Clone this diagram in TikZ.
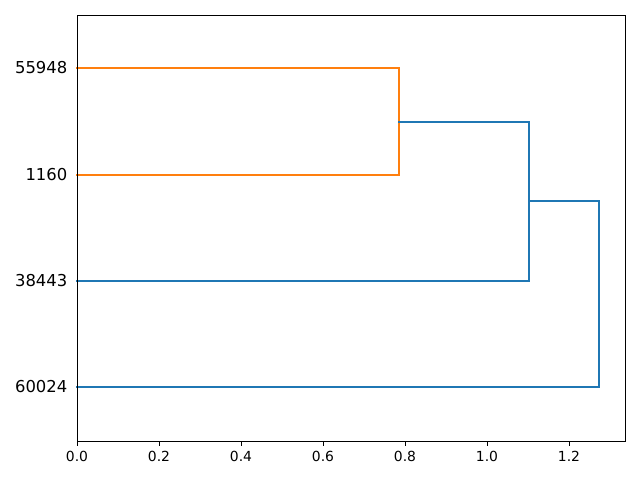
\documentclass[tikz,border=0pt]{standalone}
\usepackage{fontspec}
\setmainfont{DejaVu Sans}
\usetikzlibrary{positioning}
\definecolor{mplblue}{HTML}{1F77B4}
\definecolor{mplorange}{HTML}{FF7F0E}

\begin{document}
\begin{tikzpicture}[
    x=1pt, y=-1pt,
    % Styles for the plot elements
    link/.style={line width=1.5pt, line cap=rect},
    leaflabel/.style={anchor=east, inner sep=0pt, font=\fontsize{16.4}{18}\selectfont},
    ticklabel/.style={anchor=north, inner sep=0pt, font=\fontsize{13.9}{15}\selectfont}
]
  \useasboundingbox (0,0) rectangle (640,480);

  % --- LEAVES ---
  \coordinate (l55948) at (77,68);
  \coordinate (l1160) at (77,175);
  \coordinate (l38443) at (77,281);
  \coordinate (l60024) at (77,387);

  \node[leaflabel] (t55948) at (67.5,68) {55948};
  \node[leaflabel] (t1160) at (67.5,175) {1160};
  \node[leaflabel] (t38443) at (67.5,281) {38443};
  \node[leaflabel] (t60024) at (67.5,387) {60024};

  % --- MERGES ---
  \coordinate (ma) at (399,68);
  \coordinate (mb) at (399,175);
  \coordinate (mab) at (399,122);
  \coordinate (mc) at (529,122);
  \coordinate (md) at (529,281);
  \coordinate (mcd) at (529,201);
  \coordinate (me) at (599,201);
  \coordinate (mf) at (599,387);

  \draw[link, mplorange] (l55948) -- (ma) -- (mb) -- (l1160);
  \draw[link, mplblue] (mab) -- (mc) -- (md) -- (l38443);
  \draw[link, mplblue] (mcd) -- (me) -- (mf) -- (l60024);

  % --- AXES ---
  \draw[line width=0.8pt] (77,15) rectangle (625,441);
  \foreach \v/\lab in {0/0.0, 1/0.2, 2/0.4, 3/0.6, 4/0.8, 5/1.0, 6/1.2} {
    \draw[line width=0.8pt] (77+82*\v,441) -- (77+82*\v,445.9);
    \node[ticklabel] (tick\v) at (77+82*\v,451) {\lab};
  }

\end{tikzpicture}
\end{document}
